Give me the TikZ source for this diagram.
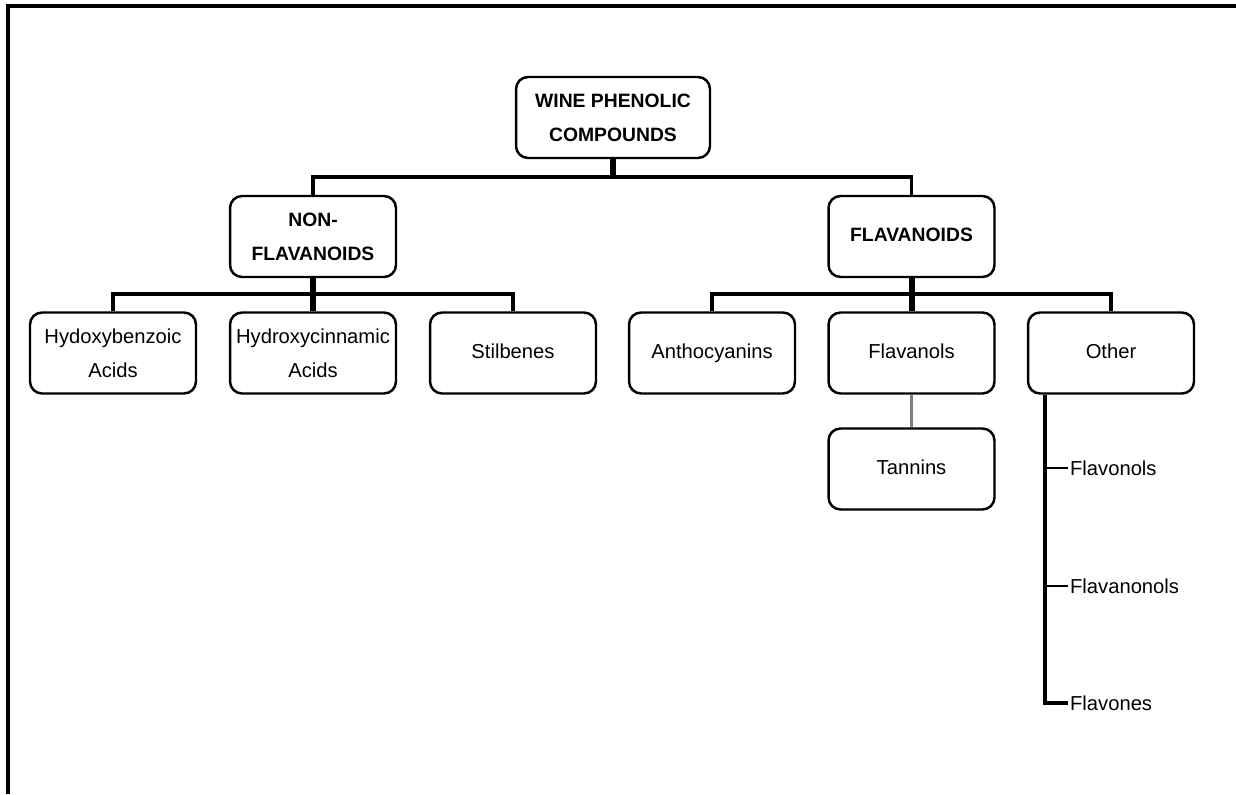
\documentclass[tikz,border=0pt]{standalone}
\usepackage{fontspec}
\setmainfont{Liberation Sans}
\usepackage{tikz}
\usetikzlibrary{calc}

\begin{document}
\begin{tikzpicture}[x=0.02cm, y=-0.02cm,
        box/.style={draw, rounded corners=0.24cm, line width=1.4pt, minimum width=3.32cm, minimum height=1.62cm, align=center, inner sep=1pt, font=\fontsize{11.5}{19.5}\selectfont},
        headbox/.style={box, font=\fontsize{11}{19.5}\selectfont\bfseries},
        oneline/.style={text height=1.6ex, text depth=0.45ex},
        bus/.style={line width=2.2pt},
        trunk/.style={line width=3.4pt},
        leaf/.style={anchor=west, inner sep=1pt, font=\fontsize{11.5}{14}\selectfont}]
        \useasboundingbox (0,0) rectangle (1236,794);
        % Frame
        \draw[line width=2pt] (8,794) -- (8,6) -- (1236,6);

        % Root
        \node[headbox, minimum width=3.88cm] (root) at (613,117.5) {WINE PHENOLIC\\COMPOUNDS};

        % Main groups
        \node[headbox] (nonflav) at (313,236.5) {NON-\\FLAVANOIDS};
        \node[headbox, oneline] (flav) at (911.5,236.5) {FLAVANOIDS};

        % Classes
        \node[box] (hba) at (113,353) {Hydoxybenzoic\\Acids};
        \node[box] (hca) at (313,353) {Hydroxycinnamic\\Acids};
        \node[box, oneline] (stil) at (513,353) {Stilbenes};
        \node[box, oneline] (antho) at (712,353) {Anthocyanins};
        \node[box, oneline] (flavanols) at (911.5,353) {Flavanols};
        \node[box, oneline] (other) at (1111,353) {Other};
        \node[box, oneline] (tannins) at (911.5,469) {Tannins};

        % Sub classes of Other
        \node[leaf] (flavonols) at (1068,468) {Flavonols};
        \node[leaf] (flavanonols) at (1068,586) {Flavanonols};
        \node[leaf] (flavones) at (1068,703) {Flavones};

        % Connectors, level 1
        \draw[bus] (nonflav.north) -- ++(0,-18) -| (flav.north);
        \draw[trunk] (root.south) -- ++(0,20);

        % Connectors, level 2
        \draw[bus] (hba.north) -- ++(0,-17) -| (stil.north);
        \draw[trunk] (nonflav.south) -- (hca.north);
        \draw[bus] (antho.north) -- ++(0,-17) -| (other.north);
        \draw[trunk] (flav.south) -- (flavanols.north);

        % Tannins
        \draw[gray, line width=1.8pt] (flavanols.south) -- (tannins.north);

        % Other list
        \coordinate (otrunk) at ($(other.south west)+(18,0)$);
        \draw[bus] (otrunk) |- (flavones.west);
        \draw[line width=1.5pt] (otrunk |- flavonols.west) -- (flavonols.west);
        \draw[line width=1.5pt] (otrunk |- flavanonols.west) -- (flavanonols.west);
    \end{tikzpicture}
\end{document}
